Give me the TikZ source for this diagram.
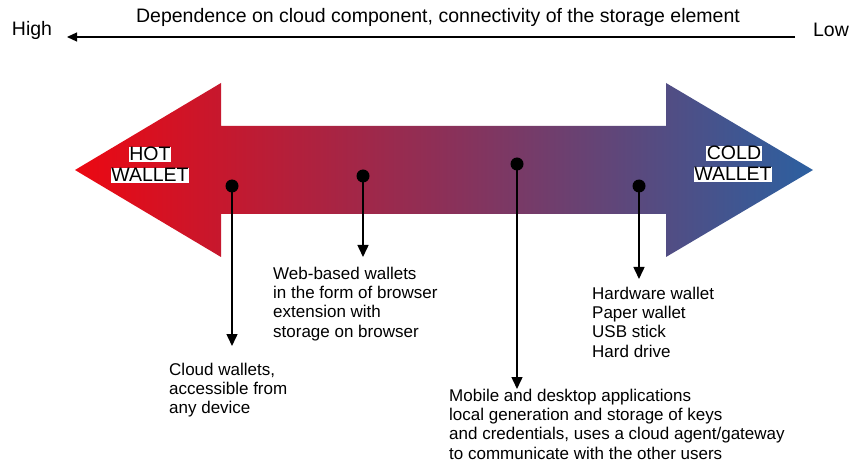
\documentclass[tikz,border=0pt]{standalone}
\usepackage{fontspec}
\setmainfont{Liberation Sans}
\usetikzlibrary{arrows.meta}
\definecolor{hotred}{RGB}{236,8,18}
\definecolor{midcol}{RGB}{140,48,88}
\definecolor{coldblue}{RGB}{44,96,160}
\pgfdeclarehorizontalshading{walletshade}{100bp}{color(0bp)=(hotred); color(25bp)=(hotred); color(50bp)=(midcol); color(75bp)=(coldblue); color(100bp)=(coldblue)}
\tikzset{
  dotnode/.style={circle,fill=black,inner sep=0pt,minimum size=13pt},
  pointer/.style={line width=1.5pt,-{Triangle[width=11pt,length=12pt]}},
  desc/.style={anchor=north west,inner sep=0pt,align=left,font=\fontsize{17}{19.2}\selectfont},
  walletlbl/.style={fill=white,inner sep=0.6pt,font=\fontsize{19.5}{21}\selectfont},
  axislbl/.style={font=\fontsize{19.5}{22}\selectfont}
}
\begin{document}
\begin{tikzpicture}[x=1pt,y=-1pt]
\useasboundingbox (0,0) rectangle (851,462);
% top axis
\node[axislbl] (title) at (438,17) {Dependence on cloud component, connectivity of the storage element};
\node[axislbl] (high) at (32,30) {High};
\node[axislbl] (low) at (831,30) {Low};
\coordinate (axR) at (795,37);
\coordinate (axL) at (67,37);
\draw[line width=1.2pt,-{Triangle[width=9pt,length=10pt]}] (axR) -- (axL);
% big double arrow
\shade[shading=walletshade] (75,170) -- (221,83) -- (221,126) -- (666,126) -- (666,83) -- (813,170) -- (666,257) -- (666,214) -- (221,214) -- (221,257) -- cycle;
\node[walletlbl,anchor=base] (hot1) at (150,161) {HOT};
\node[walletlbl,anchor=base] (hot2) at (150,182) {WALLET};
\node[walletlbl,anchor=base] (cold1) at (734,160) {COLD};
\node[walletlbl,anchor=base] (cold2) at (733,181) {WALLET};
% dots
\node[dotnode] (d1) at (232,186) {};
\node[dotnode] (d2) at (363,176) {};
\node[dotnode] (d3) at (517,164) {};
\node[dotnode] (d4) at (639,186) {};
\coordinate (e1) at (232,346);
\coordinate (e2) at (363,257);
\coordinate (e3) at (517,389);
\coordinate (e4) at (639,279);
\draw[pointer] (d1.center) -- (e1);
\draw[pointer] (d2.center) -- (e2);
\draw[pointer] (d3.center) -- (e3);
\draw[pointer] (d4.center) -- (e4);
% descriptions
\node[desc] (t1) at (169,363) {Cloud wallets,\\accessible from\\any device};
\node[desc] (t2) at (273,267) {Web-based wallets\\in the form of browser\\extension with\\storage on browser};
\node[desc] (t3) at (449,389) {Mobile and desktop applications\\local generation and storage of keys\\and credentials, uses a cloud agent/gateway\\to communicate with the other users};
\node[desc] (t4) at (592,287) {Hardware wallet\\Paper wallet\\USB stick\\Hard drive};
\end{tikzpicture}
\end{document}
